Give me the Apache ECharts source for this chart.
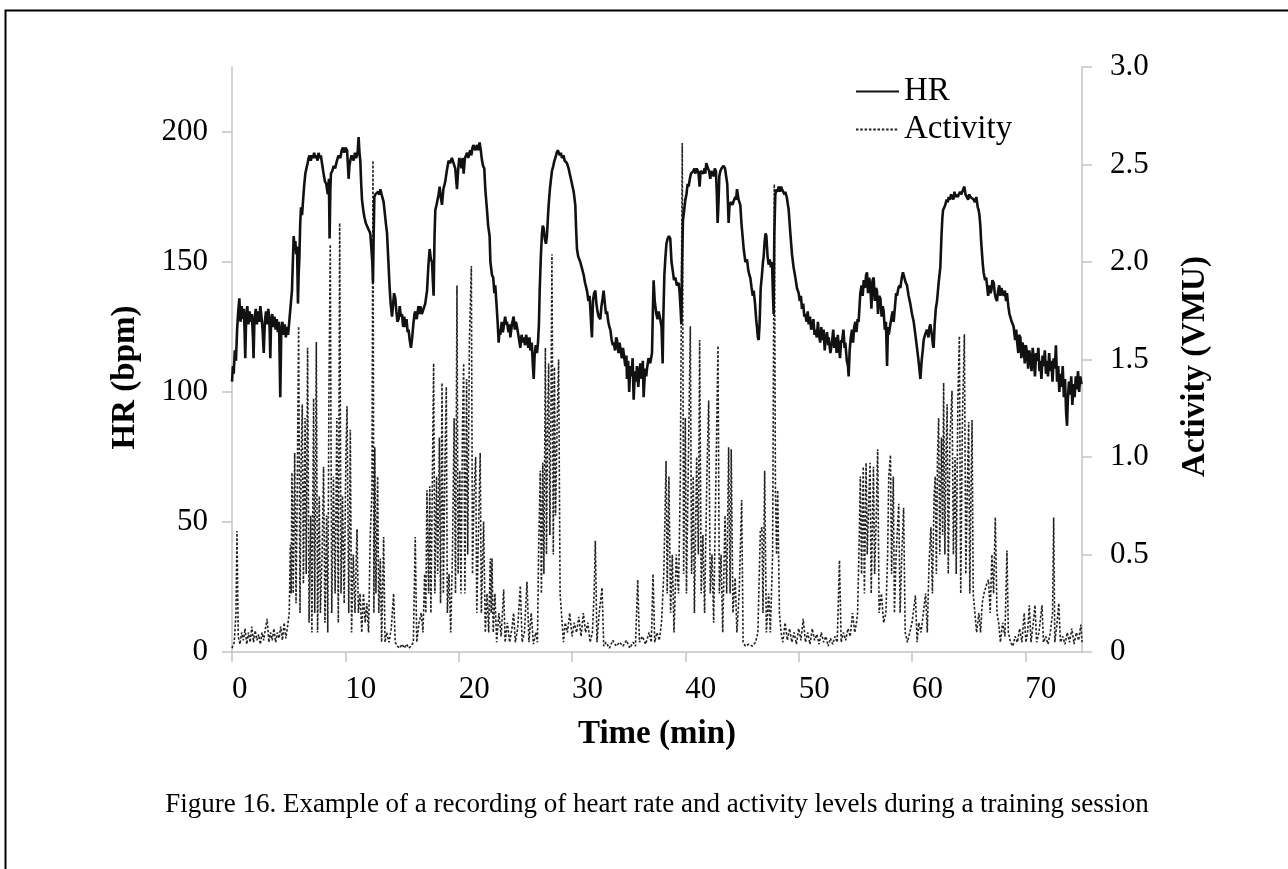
<!DOCTYPE html>
<html>
<head>
<meta charset="utf-8">
<script src="https://cdn.jsdelivr.net/npm/echarts@6/dist/echarts.min.js"></script>
<style>
html,body{margin:0;padding:0;background:#fff;}
#chart{width:1288px;height:869px;}
</style>
</head>
<body>
<div id="chart"></div>
<script>
// ---- data (time in minutes) ----
const timeTicks = [0, 10, 20, 30, 40, 50, 60, 70];
const hrTicks = [0, 50, 100, 150, 200];
const actTicks = [0, 0.5, 1.0, 1.5, 2.0, 2.5, 3.0];
const seriesNames = ['HR', 'Activity'];

// heart rate [time, bpm]
const heartRate = [
[0.00,104],[0.08,110],[0.15,107],[0.25,116],[0.35,112],[0.45,124],[0.55,131],[0.65,136],[0.75,127],[0.85,133],[0.95,128],[1.05,132],[1.12,122],[1.17,113],[1.25,129],[1.35,133],[1.45,126],[1.55,131],[1.65,127],[1.75,130],[1.85,121],[1.9,113],[1.98,128],[2.1,132],[2.2,126],[2.3,131],[2.4,127],[2.5,133],[2.6,129],[2.7,124],[2.8,115],[2.9,127],[3.0,131],[3.1,126],[3.2,132],[3.3,128],[3.38,113],[3.45,127],[3.55,130],[3.65,125],[3.75,129],[3.85,124],[3.95,128],[4.05,123],[4.15,127],[4.26,98],[4.35,124],[4.45,127],[4.55,122],[4.65,126],[4.75,121],[4.85,125],[4.95,122],[5.05,127],
[5.15,132],[5.29,139],[5.37,150],[5.44,160],[5.52,156],[5.59,158],[5.66,153],[5.74,156],[5.82,134],[5.88,145],[5.94,151],[6.02,165],[6.09,171],[6.18,168],[6.26,173],[6.36,179],[6.47,184],[6.57,186],[6.67,188],[6.76,190],[6.85,191],[6.95,189],[7.05,191],[7.15,190],[7.25,192],[7.35,190],[7.45,191],[7.55,189],[7.64,192],[7.74,190],[7.84,191],[7.94,188],[8.08,184],[8.2,181],[8.32,180],[8.45,176],[8.55,182],[8.61,159],[8.68,178],[8.73,184],[8.85,185],[8.97,187],[9.1,186],[9.26,189],[9.4,191],[9.56,190],[9.68,193],[9.79,194],[9.9,192],[10.0,194],[10.15,193],[10.22,188],[10.29,182],[10.36,187],[10.44,189],[10.55,191],[10.65,190],[10.73,189],[10.85,192],[10.95,190],[11.03,191],[11.1,193],[11.17,198],[11.25,192],[11.32,189],[11.4,180],[11.47,174],[11.55,171],[11.61,169],[11.7,167],[11.8,165],[11.91,165],[12.0,163],[12.1,162],[12.2,161],[12.3,155],[12.38,150],[12.44,142],[12.5,160],[12.56,175],[12.65,176],[12.79,176],[12.9,177],[13.0,176],[13.09,178],[13.2,176],[13.38,173],[13.5,168],[13.6,164],[13.68,161],[13.8,150],[13.91,140],[14.0,134],[14.12,129],[14.2,133],[14.3,138],[14.41,136],[14.5,131],[14.6,127],[14.7,128],[14.8,133],[14.9,129],[15.0,130],[15.1,125],[15.2,129],[15.29,125],[15.4,128],[15.5,123],[15.58,124],[15.68,120],[15.79,117],[15.9,121],[16.0,126],[16.1,130],[16.17,131],[16.3,128],[16.45,133],[16.55,130],[16.62,133],[16.75,130],[16.91,130],[17.05,134],[17.21,139],[17.32,148],[17.44,155],[17.55,151],[17.65,150],[17.72,143],[17.79,137],[17.87,160],[17.94,170],[18.05,172],[18.14,174],[18.23,176],[18.32,179],[18.42,175],[18.53,172],[18.65,178],[18.82,181],[18.95,185],[19.11,189],[19.25,188],[19.4,190],[19.55,190],[19.7,186],[19.85,178],[19.95,185],[20.05,190],[20.14,189],[20.25,186],[20.35,190],[20.44,184],[20.55,190],[20.65,191],[20.74,192],[20.85,190],[20.95,192],[21.03,193],[21.12,191],[21.22,194],[21.32,195],[21.45,193],[21.55,194],[21.62,195],[21.72,193],[21.85,196],[21.95,193],[22.06,189],[22.15,187],[22.26,186],[22.35,178],[22.5,170],[22.6,164],[22.73,160],[22.8,150],[22.94,145],[23.05,144],[23.15,138],[23.23,141],[23.35,133],[23.45,126],[23.53,119],[23.6,124],[23.67,122],[23.8,127],[23.9,123],[23.97,125],[24.1,129],[24.2,126],[24.26,127],[24.4,123],[24.5,126],[24.56,121],[24.7,126],[24.85,129],[24.95,124],[25.05,127],[25.15,125],[25.3,121],[25.44,117],[25.55,122],[25.65,119],[25.73,121],[25.85,118],[25.95,122],[26.03,120],[26.15,117],[26.25,121],[26.32,116],[26.45,119],[26.55,110],[26.62,105],[26.7,114],[26.8,118],[26.91,115],[27.0,119],[27.08,126],[27.15,139],[27.25,152],[27.35,161],[27.42,164],[27.5,163],[27.6,159],[27.7,157],[27.79,160],[27.86,166],[27.94,172],[28.05,178],[28.15,182],[28.23,185],[28.35,187],[28.45,189],[28.53,190],[28.65,192],[28.75,193],[28.82,193],[28.92,191],[29.02,192],[29.12,190],[29.25,191],[29.35,189],[29.41,189],[29.55,188],[29.7,186],[29.85,183],[30.0,180],[30.15,177],[30.29,172],[30.36,163],[30.44,155],[30.55,152],[30.65,151],[30.73,150],[30.85,148],[31.03,145],[31.15,142],[31.32,139],[31.45,135],[31.55,137],[31.62,132],[31.7,125],[31.76,121],[31.85,135],[31.95,138],[32.06,139],[32.15,134],[32.25,131],[32.35,129],[32.5,128],[32.6,133],[32.7,136],[32.79,139],[32.9,134],[33.0,130],[33.09,131],[33.2,127],[33.3,125],[33.38,124],[33.5,120],[33.6,118],[33.67,119],[33.8,116],[33.9,121],[33.97,120],[34.1,115],[34.2,119],[34.26,117],[34.4,113],[34.5,117],[34.56,115],[34.7,110],[34.8,114],[34.85,105],[34.95,112],[35.05,100],[35.15,110],[35.25,106],[35.35,113],[35.44,97],[35.55,108],[35.65,104],[35.73,110],[35.85,102],[35.95,108],[36.03,111],[36.15,105],[36.25,112],[36.32,98],[36.45,109],[36.55,106],[36.62,109],[36.75,113],[36.9,111],[37.06,115],[37.13,130],[37.2,143],[37.3,135],[37.44,130],[37.55,128],[37.65,131],[37.79,128],[37.9,125],[38.0,111],[38.05,127],[38.15,145],[38.23,151],[38.33,157],[38.44,159],[38.55,160],[38.67,159],[38.78,150],[38.91,146],[39.0,143],[39.12,144],[39.25,141],[39.41,142],[39.5,138],[39.58,132],[39.65,126],[39.72,150],[39.79,166],[39.9,170],[40.0,174],[40.1,176],[40.2,180],[40.29,179],[40.4,182],[40.5,184],[40.58,184],[40.7,185],[40.8,186],[40.88,184],[41.0,186],[41.1,185],[41.17,184],[41.26,179],[41.35,185],[41.47,185],[41.6,184],[41.7,186],[41.76,184],[41.85,188],[41.91,188],[42.0,186],[42.1,185],[42.2,182],[42.3,185],[42.4,184],[42.5,183],[42.6,186],[42.7,185],[42.78,176],[42.85,165],[42.92,172],[43.0,183],[43.09,185],[43.2,186],[43.3,186],[43.38,187],[43.5,186],[43.62,186],[43.7,180],[43.78,170],[43.82,165],[43.9,172],[44.03,173],[44.15,172],[44.26,172],[44.4,175],[44.48,174],[44.56,178],[44.7,174],[44.85,172],[44.95,165],[45.05,160],[45.15,155],[45.3,150],[45.44,151],[45.55,147],[45.65,145],[45.73,144],[45.85,140],[45.95,137],[46.03,139],[46.15,134],[46.25,128],[46.32,125],[46.4,121],[46.47,120],[46.55,126],[46.65,140],[46.76,145],[46.85,150],[46.91,152],[47.0,158],[47.08,161],[47.15,160],[47.26,152],[47.35,149],[47.45,151],[47.55,148],[47.65,150],[47.72,139],[47.79,130],[47.85,160],[47.94,176],[48.05,178],[48.15,177],[48.24,179],[48.35,177],[48.45,179],[48.53,178],[48.65,178],[48.75,176],[48.82,177],[48.95,175],[49.05,172],[49.12,170],[49.25,162],[49.41,153],[49.55,148],[49.71,144],[49.85,140],[50.0,138],[50.1,135],[50.2,137],[50.29,132],[50.4,134],[50.5,129],[50.59,130],[50.7,127],[50.8,131],[50.88,126],[51.0,129],[51.1,124],[51.18,125],[51.3,128],[51.4,122],[51.47,124],[51.6,121],[51.7,127],[51.76,123],[51.9,119],[52.0,125],[52.06,120],[52.2,124],[52.3,116],[52.35,119],[52.5,123],[52.6,118],[52.65,121],[52.8,115],[52.94,119],[53.05,124],[53.15,117],[53.24,121],[53.35,115],[53.45,122],[53.53,118],[53.65,113],[53.75,120],[53.82,119],[53.95,124],[54.05,117],[54.12,119],[54.25,112],[54.35,110],[54.41,106],[54.5,116],[54.6,121],[54.71,124],[54.8,119],[54.9,125],[55.0,127],[55.1,123],[55.2,128],[55.29,127],[55.37,133],[55.44,138],[55.55,141],[55.65,137],[55.74,143],[55.85,140],[55.95,145],[56.03,146],[56.12,138],[56.22,144],[56.32,141],[56.42,132],[56.52,143],[56.62,144],[56.72,135],[56.82,140],[56.91,139],[57.0,130],[57.1,137],[57.21,136],[57.32,129],[57.42,133],[57.5,131],[57.6,124],[57.7,127],[57.8,110],[57.88,125],[57.95,122],[58.09,126],[58.2,129],[58.3,131],[58.38,127],[58.5,133],[58.6,138],[58.68,137],[58.8,140],[58.9,141],[58.97,140],[59.1,144],[59.2,146],[59.32,146],[59.45,142],[59.56,141],[59.7,137],[59.85,134],[60.0,130],[60.15,127],[60.3,122],[60.44,117],[60.55,113],[60.65,109],[60.74,105],[60.85,112],[60.95,116],[61.03,120],[61.15,122],[61.32,124],[61.45,121],[61.55,125],[61.62,126],[61.75,122],[61.85,118],[61.91,117],[62.0,126],[62.1,132],[62.21,135],[62.35,142],[62.5,148],[62.6,160],[62.68,167],[62.74,170],[62.85,171],[62.94,172],[63.05,174],[63.15,173],[63.24,175],[63.35,174],[63.45,176],[63.53,176],[63.65,174],[63.75,177],[63.82,175],[63.95,176],[64.05,175],[64.12,176],[64.25,177],[64.35,176],[64.41,176],[64.52,178],[64.62,179],[64.72,176],[64.85,176],[64.95,174],[65.05,176],[65.15,175],[65.3,175],[65.44,174],[65.55,173],[65.68,175],[65.8,171],[65.88,170],[65.95,168],[66.03,164],[66.1,158],[66.18,153],[66.25,149],[66.32,146],[66.45,143],[66.55,144],[66.62,141],[66.72,137],[66.82,141],[66.91,138],[67.0,139],[67.1,143],[67.21,142],[67.3,138],[67.4,136],[67.5,135],[67.6,139],[67.7,141],[67.8,137],[67.9,140],[68.0,138],[68.09,137],[68.2,139],[68.3,135],[68.38,138],[68.5,133],[68.6,130],[68.68,130],[68.8,127],[68.9,126],[68.97,125],[69.1,120],[69.2,124],[69.26,120],[69.38,115],[69.45,122],[69.56,121],[69.65,113],[69.75,119],[69.85,117],[69.95,111],[70.05,118],[70.15,115],[70.25,109],[70.35,116],[70.45,113],[70.55,108],[70.65,117],[70.74,113],[70.85,106],[70.95,115],[71.05,112],[71.15,117],[71.25,108],[71.32,112],[71.42,105],[71.52,114],[71.62,110],[71.72,116],[71.82,107],[71.91,112],[72.0,106],[72.1,115],[72.2,108],[72.3,112],[72.4,104],[72.5,113],[72.6,109],[72.7,118],[72.8,104],[72.9,110],[73.0,100],[73.09,107],[73.2,102],[73.3,110],[73.4,98],[73.5,105],[73.6,92],[73.68,87],[73.75,97],[73.85,104],[73.95,99],[74.05,106],[74.15,95],[74.26,103],[74.35,98],[74.45,106],[74.55,101],[74.65,108],[74.75,100],[74.85,106],[74.95,103]
];

// activity [time, VMU]
const activity = [
[0,0.02],[0.2,0.05],[0.35,0.2],[0.44,0.62],[0.55,0.08],[0.7,0.04],[0.85,0.1],[1.0,0.06],[1.15,0.12],[1.3,0.04],[1.45,0.1],[1.6,0.05],[1.75,0.13],[1.9,0.05],[2.05,0.11],[2.2,0.06],[2.35,0.09],[2.5,0.04],[2.65,0.1],[2.8,0.06],[2.95,0.12],[3.1,0.17],[3.25,0.05],[3.4,0.1],[3.55,0.06],[3.7,0.12],[3.85,0.05],[4.0,0.1],[4.15,0.07],[4.3,0.13],[4.45,0.06],[4.6,0.15],[4.75,0.07],[4.9,0.13],[5.05,0.2],
[5.15,0.55],[5.22,0.3],[5.29,0.92],[5.4,0.3],[5.53,1.02],[5.65,0.25],[5.75,0.8],[5.88,1.67],[6.0,0.2],[6.1,1.0],[6.2,1.27],[6.3,0.35],[6.45,1.2],[6.55,0.4],[6.67,1.56],[6.8,0.15],[6.95,0.7],[7.05,0.1],[7.2,1.3],[7.3,0.2],[7.44,1.59],[7.55,0.1],[7.7,0.8],[7.8,0.2],[7.95,0.5],[8.08,0.95],[8.2,0.15],[8.35,0.7],[8.45,0.1],[8.55,1.3],[8.67,2.09],[8.8,0.2],[8.95,0.9],[9.1,0.3],[9.25,1.2],[9.38,0.15],[9.5,2.2],[9.62,0.3],[9.75,0.8],[9.9,0.25],[10.05,1.0],[10.15,1.26],[10.3,0.2],[10.44,1.14],[10.55,0.1],[10.7,0.5],[10.85,0.2],[11.03,0.63],[11.15,0.2],[11.3,0.3],[11.45,0.1],[11.6,0.3],[11.75,0.15],[11.9,0.25],[12.05,0.1],[12.2,0.6],[12.35,0.83],[12.44,2.52],[12.52,0.2],[12.6,1.05],[12.7,0.3],[12.85,0.9],[12.95,0.2],[13.09,0.48],[13.2,0.05],[13.38,0.59],[13.5,0.05],[13.65,0.1],[13.85,0.05],[14.05,0.12],[14.26,0.3],[14.4,0.05],[14.6,0.03],[14.8,0.02],[15.0,0.04],[15.2,0.02],[15.4,0.04],[15.6,0.02],[15.8,0.03],[16.0,0.05],[16.17,0.59],[16.3,0.05],[16.5,0.15],[16.7,0.2],[16.85,0.1],[17.0,0.4],[17.1,0.2],[17.2,0.83],[17.35,0.3],[17.45,0.85],[17.55,0.2],[17.7,1.0],[17.79,1.48],[17.9,0.3],[18.05,0.9],[18.15,0.4],[18.3,1.1],[18.4,0.25],[18.53,1.38],[18.65,0.3],[18.8,1.0],[18.91,1.36],[19.0,0.2],[19.15,0.4],[19.3,0.1],[19.45,0.5],[19.6,1.2],[19.72,0.3],[19.85,1.88],[19.95,0.4],[20.1,0.93],[20.2,0.3],[20.35,1.2],[20.44,1.48],[20.55,0.3],[20.7,1.4],[20.8,0.5],[20.95,1.6],[21.12,1.98],[21.22,0.4],[21.35,0.8],[21.5,1.0],[21.6,0.2],[21.75,0.62],[21.9,1.02],[22.0,0.2],[22.2,0.67],[22.35,0.1],[22.5,0.3],[22.65,0.1],[22.79,0.48],[22.87,0.2],[22.94,0.48],[23.05,0.1],[23.2,0.3],[23.35,0.05],[23.55,0.2],[23.75,0.08],[23.97,0.32],[24.1,0.05],[24.3,0.15],[24.5,0.05],[24.7,0.12],[24.85,0.2],[25.0,0.05],[25.2,0.12],[25.44,0.34],[25.6,0.05],[25.8,0.1],[26.03,0.36],[26.2,0.05],[26.4,0.2],[26.6,0.04],[26.8,0.1],[26.95,0.05],
[27.05,0.5],[27.2,0.93],[27.3,0.3],[27.42,0.97],[27.52,0.4],[27.65,1.56],[27.75,0.5],[27.85,1.2],[27.94,1.48],[28.05,0.6],[28.15,1.3],[28.23,2.04],[28.35,0.5],[28.45,1.46],[28.55,0.7],[28.7,1.2],[28.82,1.5],[28.95,0.3],[29.1,0.3],[29.25,0.05],[29.4,0.15],[29.6,0.1],[29.8,0.2],[30.0,0.08],[30.2,0.15],[30.4,0.1],[30.6,0.18],[30.8,0.08],[31.0,0.2],[31.2,0.1],[31.4,0.15],[31.6,0.05],[31.8,0.1],[31.95,0.3],[32.06,0.57],[32.2,0.05],[32.4,0.2],[32.65,0.33],[32.8,0.03],[33.0,0.05],[33.3,0.02],[33.6,0.06],[33.9,0.03],[34.2,0.05],[34.5,0.03],[34.8,0.06],[35.1,0.02],[35.4,0.05],[35.6,0.03],[35.8,0.37],[35.95,0.05],[36.2,0.08],[36.5,0.04],[36.8,0.1],[37.0,0.05],[37.15,0.4],[37.3,0.05],[37.5,0.1],[37.7,0.06],[37.9,0.15],
[38.1,0.4],[38.3,0.98],[38.4,0.3],[38.55,0.9],[38.7,0.2],[38.85,0.5],[39.0,0.1],[39.2,0.5],[39.4,0.3],[39.56,0.9],[39.73,2.61],[39.85,0.4],[40.0,1.2],[40.1,0.3],[40.3,1.1],[40.44,1.67],[40.55,0.4],[40.7,0.9],[40.8,0.2],[41.0,1.0],[41.15,0.5],[41.26,1.6],[41.4,0.3],[41.55,0.6],[41.7,0.2],[41.9,0.9],[42.06,1.29],[42.2,0.3],[42.35,0.5],[42.5,0.15],[42.7,0.9],[42.88,1.57],[43.0,0.3],[43.15,0.5],[43.3,0.1],[43.5,0.7],[43.65,0.3],[43.82,1.05],[43.95,0.3],[44.05,1.04],[44.2,0.2],[44.4,0.38],[44.55,0.1],[44.75,0.3],[44.97,0.78],[45.1,0.05],[45.3,0.03],[45.6,0.04],[45.9,0.03],[46.2,0.05],[46.4,0.1],[46.62,0.62],[46.76,0.64],[46.85,0.2],[47.0,0.93],[47.15,0.1],[47.35,0.3],[47.5,0.1],[47.7,0.5],[47.85,2.4],[47.95,0.83],[48.05,0.5],[48.15,0.83],[48.3,0.2],[48.45,0.1],[48.6,0.05],[48.8,0.15],[49.0,0.06],[49.2,0.12],[49.4,0.05],[49.6,0.1],[49.8,0.04],[50.0,0.12],[50.2,0.06],[50.4,0.17],[50.6,0.05],[50.8,0.1],[51.0,0.04],[51.2,0.12],[51.4,0.06],[51.6,0.09],[51.8,0.04],[52.0,0.1],[52.2,0.05],[52.4,0.08],[52.6,0.03],[52.8,0.07],[53.0,0.04],[53.2,0.08],[53.4,0.05],[53.6,0.47],[53.75,0.05],[53.95,0.1],[54.15,0.06],[54.35,0.12],[54.55,0.08],[54.75,0.2],[54.95,0.1],[55.1,0.15],
[55.2,0.2],[55.35,0.6],[55.44,0.9],[55.55,0.4],[55.7,0.95],[55.8,0.3],[55.95,0.97],[56.05,0.5],[56.2,0.8],[56.3,0.97],[56.4,0.3],[56.6,0.95],[56.7,0.4],[56.85,0.7],[56.97,1.04],[57.1,0.2],[57.3,0.3],[57.5,0.15],[57.7,0.2],[57.85,0.5],[57.95,0.9],[58.1,1.01],[58.2,0.4],[58.35,0.9],[58.45,0.2],[58.6,0.5],[58.83,0.76],[58.95,0.2],[59.1,0.5],[59.26,0.74],[59.4,0.1],[59.6,0.05],[59.8,0.1],[60.0,0.15],[60.3,0.29],[60.45,0.05],[60.6,0.15],[60.8,0.1],[61.0,0.2],[61.2,0.3],[61.35,0.1],
[61.5,0.45],[61.67,0.64],[61.8,0.3],[61.95,0.8],[62.05,0.9],[62.15,0.4],[62.25,1.0],[62.35,1.2],[62.45,0.5],[62.6,1.1],[62.7,0.6],[62.79,1.38],[62.9,0.5],[63.0,1.0],[63.1,1.27],[63.2,0.4],[63.35,1.1],[63.53,1.34],[63.65,0.5],[63.8,1.0],[63.9,0.4],[64.05,1.3],[64.18,1.62],[64.3,0.3],[64.45,1.2],[64.62,1.63],[64.75,0.4],[64.9,0.9],[65.0,1.18],[65.1,0.3],[65.2,0.8],[65.3,1.19],[65.4,0.3],[65.55,0.2],[65.7,0.1],[65.9,0.2],[66.05,0.1],[66.2,0.25],[66.35,0.3],[66.47,0.3],[66.6,0.35],[66.75,0.37],[66.9,0.2],[67.05,0.5],[67.2,0.3],[67.35,0.69],[67.5,0.2],[67.65,0.15],[67.8,0.05],[68.0,0.15],[68.2,0.08],[68.38,0.52],[68.5,0.1],[68.7,0.05],[68.9,0.03],[69.1,0.08],[69.3,0.05],[69.5,0.12],[69.7,0.05],[69.9,0.2],[70.05,0.05],[70.2,0.1],[70.35,0.24],[70.5,0.05],[70.7,0.15],[70.85,0.24],[71.0,0.05],[71.2,0.1],[71.47,0.24],[71.6,0.05],[71.8,0.08],[72.0,0.04],[72.2,0.1],[72.4,0.2],[72.5,0.69],[72.6,0.05],[72.8,0.15],[72.95,0.25],[73.1,0.05],[73.3,0.08],[73.5,0.04],[73.7,0.1],[73.9,0.05],[74.1,0.12],[74.3,0.04],[74.5,0.1],[74.7,0.06],[74.9,0.14],[75.0,0.05]
];

const captionText = 'Figure 16. Example of a recording of heart rate and activity levels during a training session';

// ---- chart ----
const FONT = '"Liberation Serif", "Times New Roman", serif';
const axisGray = '#c4c4c4';
const chart = echarts.init(document.getElementById('chart'), null, {renderer: 'canvas'});

chart.setOption({
  backgroundColor: '#ffffff',
  animation: false,
  color: ['#111111', '#222222'],
  grid: {left: 232, right: 206, top: 67, bottom: 217, containLabel: false},
  legend: {
    data: seriesNames,
    orient: 'vertical',
    left: 850, top: 70,
    itemWidth: 43, itemHeight: 14, itemGap: 5,
    itemStyle: {opacity: 0},
    textStyle: {fontFamily: FONT, fontSize: 33, color: '#000', lineHeight: 33}
  },
  xAxis: {
    type: 'value', min: 0, max: 75, interval: 10,
    name: 'Time (min)', nameLocation: 'middle', nameGap: 66,
    nameTextStyle: {fontFamily: FONT, fontSize: 33, fontWeight: 'bold', color: '#000'},
    axisLine: {show: true, lineStyle: {color: axisGray, width: 1.5}},
    axisTick: {show: true, length: 10, lineStyle: {color: axisGray, width: 1.5}, customValues: timeTicks},
    axisLabel: {fontFamily: FONT, fontSize: 31, color: '#000', margin: 22, align: 'left', customValues: timeTicks, formatter: v => String(v)},
    splitLine: {show: false}
  },
  yAxis: [
    {
      type: 'value', min: 0, max: 225, interval: 50, position: 'left',
      name: 'HR (bpm)', nameLocation: 'middle', nameGap: 90, nameRotate: 90,
      nameTextStyle: {fontFamily: FONT, fontSize: 33, fontWeight: 'bold', color: '#000', padding: [0, 36, 0, 0]},
      axisLine: {show: true, lineStyle: {color: axisGray, width: 1.5}},
      axisTick: {show: true, length: 10, lineStyle: {color: axisGray, width: 1.5}, customValues: hrTicks},
      axisLabel: {fontFamily: FONT, fontSize: 31, color: '#000', margin: 24, customValues: hrTicks, formatter: v => String(v)},
      splitLine: {show: false}
    },
    {
      type: 'value', min: 0, max: 3, interval: 0.5, position: 'right',
      name: 'Activity (VMU)', nameLocation: 'middle', nameGap: 97, nameRotate: 90,
      nameTextStyle: {fontFamily: FONT, fontSize: 33, fontWeight: 'bold', color: '#000', padding: [0, 14, 0, 0]},
      axisLine: {show: true, lineStyle: {color: axisGray, width: 1.5}},
      axisTick: {show: true, length: 10, lineStyle: {color: axisGray, width: 1.5}, customValues: actTicks},
      axisLabel: {fontFamily: FONT, fontSize: 31, color: '#000', margin: 28, customValues: actTicks,
        formatter: v => (v === 0 ? '0' : Number(v).toFixed(1))},
      splitLine: {show: false}
    }
  ],
  series: [
    {
      name: seriesNames[0], type: 'line', yAxisIndex: 0, data: heartRate,
      showSymbol: false, symbol: 'none', z: 3,
      itemStyle: {color: '#111'},
      lineStyle: {color: '#111', width: 2.6}
    },
    {
      name: seriesNames[1], type: 'line', yAxisIndex: 1, data: activity,
      showSymbol: false, symbol: 'none', z: 2,
      itemStyle: {color: '#222'},
      lineStyle: {color: '#222', width: 1.6, type: [2.5, 1.8]}
    }
  ],
  graphic: [
    {type: 'rect', left: 3, top: 8, silent: true,
      shape: {x: 0, y: 0, width: 1320, height: 900},
      style: {fill: 'none', stroke: '#000', lineWidth: 2}},
    {type: 'text', x: 657, y: 805, silent: true,
      style: {text: captionText, fontFamily: FONT, fontSize: 27, fill: '#000', align: 'center', verticalAlign: 'middle'}}
  ]
});
</script>
</body>
</html>
